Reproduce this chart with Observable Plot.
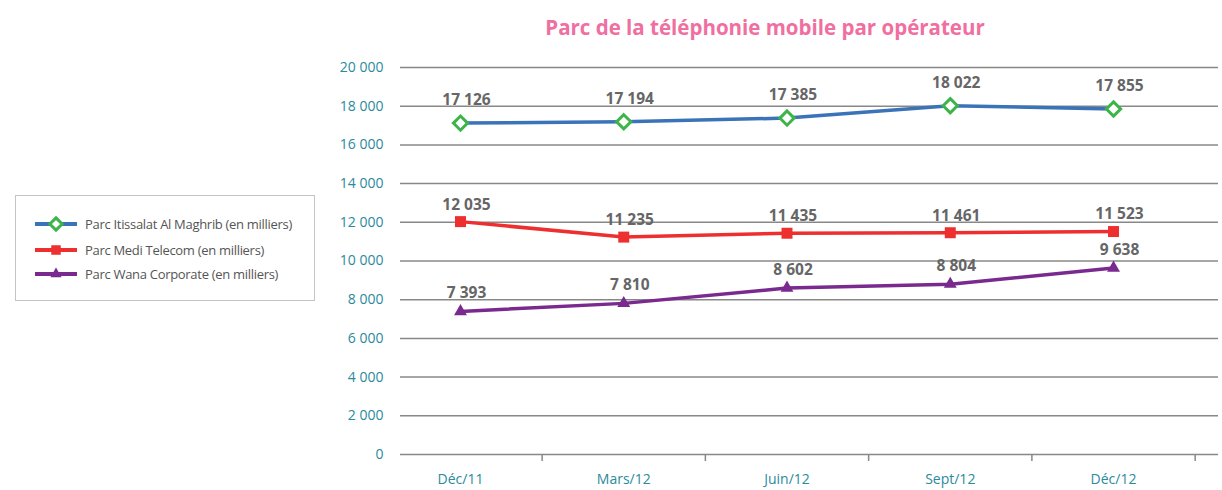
<!DOCTYPE html>
<html>
<head>
<meta charset="utf-8">
<script src="https://cdn.jsdelivr.net/npm/d3@7"></script>
<script src="https://cdn.jsdelivr.net/npm/@observablehq/plot@0.6"></script>
<style>
  html, body { margin: 0; padding: 0; background: #fff; }
  body { width: 1222px; height: 490px; position: relative; overflow: hidden; font-family: "Open Sans", sans-serif; }
  #title { position: absolute; top: 13px; left: 765px; transform: translateX(-50%); white-space: nowrap;
           font-family: "Open Sans", sans-serif; font-weight: 700; font-size: 20.5px; color: #f06fa0; }
  #chart { position: absolute; top: 0; left: 0; }
  #legend { position: absolute; left: 15px; top: 195px; width: 300px; height: 106px; border: 1px solid #c4c4c4; box-sizing: border-box; }
  .item { position: absolute; left: 19px; height: 20px; display: flex; align-items: center; }
  .item span { font-size: 13px; color: #555; letter-spacing: -0.3px; margin-left: 8px; white-space: nowrap; }
</style>
</head>
<body>
<div id="title">Parc de la téléphonie mobile par opérateur</div>
<div id="chart"></div>
<div id="legend"></div>
<script>
// ---- data ----
const months = ["Déc/11", "Mars/12", "Juin/12", "Sept/12", "Déc/12"];
const itissalat = [17126, 17194, 17385, 18022, 17855];
const medi = [12035, 11235, 11435, 11461, 11523];
const wana = [7393, 7810, 8602, 8804, 9638];
const seriesNames = [
  "Parc Itissalat Al Maghrib (en milliers)",
  "Parc Medi Telecom (en milliers)",
  "Parc Wana Corporate (en milliers)"
];
const yTicks = [0, 2000, 4000, 6000, 8000, 10000, 12000, 14000, 16000, 18000, 20000];

// ---- styles per series ----
const styles = [
  {line: "#3b73b9", symbol: "diamond2", fill: "#ffffff", stroke: "#3db449", sw: 3, r: 6.4, dy: -23},
  {line: "#ee2f2f", symbol: "square", fill: "#ee2f2f", stroke: "none", sw: 0, r: 6.2, dy: -17},
  {line: "#7a2a8e", symbol: "triangle", fill: "#7a2a8e", stroke: "none", sw: 0, r: 4.8, dy: -18}
];
const allValues = [itissalat, medi, wana];
const rows = [];
allValues.forEach((vals, s) => vals.forEach((v, i) => rows.push({s, i, month: months[i], value: v})));

const fmt = v => d3.format(",")(v).replace(/,/g, " ");
const boundaries = d3.range(months.length).map(i => i + 0.5);

const marks = [
  Plot.ruleY(yTicks, {stroke: "#888", strokeWidth: 1.5}),
  Plot.axisY({ticks: yTicks, tickSize: 0, tickPadding: 17, tickFormat: fmt, fontSize: 14, color: "#2b8a9b", label: null}),
  Plot.axisX({ticks: d3.range(months.length), tickSize: 0, tickPadding: 20, tickFormat: i => months[i], fontSize: 14, color: "#2b8a9b", label: null}),
  Plot.axisX({ticks: boundaries, tickSize: 7, tickFormat: () => "", stroke: "#888", strokeWidth: 1.5, label: null})
];
styles.forEach((st, s) => {
  const data = rows.filter(d => d.s === s);
  marks.push(Plot.line(data, {x: "i", y: "value", stroke: st.line, strokeWidth: 3.5}));
});
styles.forEach((st, s) => {
  const data = rows.filter(d => d.s === s);
  marks.push(Plot.dot(data, {x: "i", y: "value", symbol: st.symbol, r: st.r, fill: st.fill, stroke: st.stroke, strokeWidth: st.sw}));
  marks.push(Plot.text(data, {x: "i", y: "value", text: d => fmt(d.value), dy: st.dy, dx: 6, fontSize: 15.5, fontWeight: 700, fill: "#666"}));
});

const chart = Plot.plot({
  width: 1222,
  height: 490,
  marginTop: 67,
  marginBottom: 36,
  marginLeft: 400,
  marginRight: 4,
  style: {fontFamily: "'Open Sans', sans-serif", background: "transparent", overflow: "visible"},
  x: {type: "linear", domain: [-0.3675, 4.643]},
  y: {domain: [0, 20000]},
  marks
});
document.getElementById("chart").appendChild(chart);

// ---- legend ----
const legend = document.getElementById("legend");
const symMap = {diamond2: d3.symbolDiamond2, square: d3.symbolSquare, triangle: d3.symbolTriangle};
const tops = [18, 44, 68];
seriesNames.forEach((name, s) => {
  const st = styles[s];
  const item = document.createElement("div");
  item.className = "item";
  item.style.top = tops[s] + "px";
  const svg = d3.create("svg").attr("width", 42).attr("height", 20);
  svg.append("line").attr("x1", 0).attr("x2", 42).attr("y1", 10).attr("y2", 10).attr("stroke", st.line).attr("stroke-width", 4);
  svg.append("path").attr("transform", "translate(21,10)")
    .attr("d", d3.symbol(symMap[st.symbol], Math.PI * st.r * st.r * 0.75)())
    .attr("fill", st.fill).attr("stroke", st.stroke).attr("stroke-width", st.sw);
  item.appendChild(svg.node());
  const label = document.createElement("span");
  label.textContent = name;
  item.appendChild(label);
  legend.appendChild(item);
});
</script>
</body>
</html>
